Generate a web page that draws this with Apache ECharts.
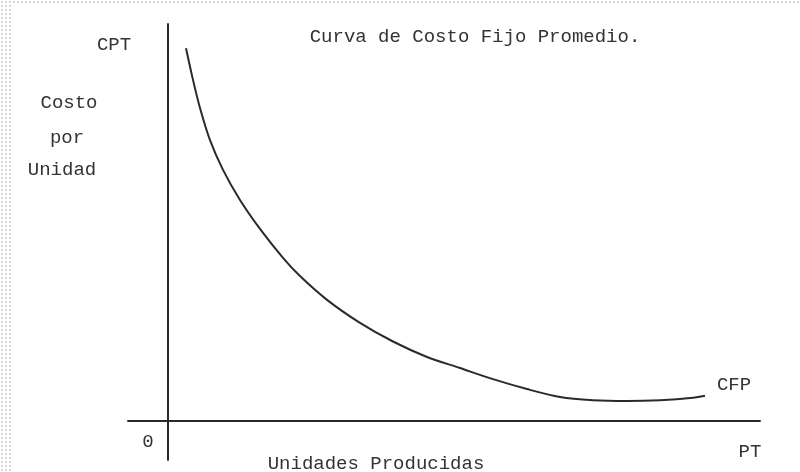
<!DOCTYPE html>
<html>
<head>
<meta charset="utf-8">
<script src="https://cdn.jsdelivr.net/npm/echarts@6/dist/echarts.min.js"></script>
<style>
  html, body { margin: 0; padding: 0; background: #fff; }
  #wrap { position: relative; width: 800px; height: 472px; overflow: hidden; background: #fff; }
  .strip { position: absolute; background-image: radial-gradient(circle, #d8d8d8 0.9px, transparent 1.4px); background-size: 4px 4px; }
  #left { left: 0; top: 0; width: 12px; height: 472px; }
  #top { left: 0; top: 0; width: 800px; height: 5px; }
  #chart { position: absolute; left: 0; top: 0; width: 800px; height: 472px; }
</style>
</head>
<body>
<div id="wrap">
  <div class="strip" id="left"></div>
  <div class="strip" id="top"></div>
  <div id="chart"></div>
</div>
<script>
// Units produced (x) and average fixed cost (y)
const unidades = [4.5, 6.25, 8, 10.5, 13.75, 18, 23, 28.75, 33, 39.75, 48, 56.25, 64.75, 73, 81.25, 89.75, 98, 106.25, 114.75, 123, 131.25, 134.25];
const costoFijoPromedio = [93.9, 85.9, 78.8, 70.7, 63.2, 55.6, 48.3, 41.0, 36.4, 30.4, 24.6, 19.9, 16.0, 13.2, 10.4, 7.9, 5.9, 5.1, 4.9, 5.1, 5.7, 6.2];

const titulo = 'Curva de Costo Fijo Promedio.';
const etiquetaEjeY = ['Costo', 'por', 'Unidad'];
const etiquetaCPT = 'CPT';
const etiquetaCFP = 'CFP';
const etiquetaPT = 'PT';
const etiquetaOrigen = '0';
const etiquetaEjeX = 'Unidades Producidas';

const FONT = '"Liberation Mono", "DejaVu Sans Mono", monospace';
const TXT = '#333333';

const chart = echarts.init(document.getElementById('chart'), null, { renderer: 'canvas' });

const pts = unidades.map((x, i) => [x, costoFijoPromedio[i]]);

function txt(x, y, s, align) {
  return {
    type: 'text', x: x, y: y,
    style: { text: s, font: '19px ' + FONT, fill: TXT, align: align || 'center', verticalAlign: 'middle' }
  };
}

chart.setOption({
  backgroundColor: 'transparent',
  animation: false,
  title: {
    text: titulo,
    left: 470, top: 22,
    textAlign: 'center',
    textStyle: { fontFamily: FONT, fontSize: 19, fontWeight: 'normal', color: TXT }
  },
  grid: { left: 128, right: 40, top: 24, bottom: 12 },
  xAxis: {
    type: 'value', min: -10, max: 148,
    axisLine: { show: true, onZero: true, lineStyle: { color: '#2a2a2a', width: 2 } },
    axisTick: { show: false }, axisLabel: { show: false }, splitLine: { show: false }
  },
  yAxis: {
    type: 'value', min: -10, max: 100,
    axisLine: { show: true, onZero: true, lineStyle: { color: '#2a2a2a', width: 2 } },
    axisTick: { show: false }, axisLabel: { show: false }, splitLine: { show: false }
  },
  series: [{
    type: 'line',
    data: pts,
    smooth: 0.3,
    symbol: 'none',
    lineStyle: { color: '#2a2a2a', width: 2 }
  }],
  graphic: [
    txt(114, 45, etiquetaCPT),
    txt(69, 103, etiquetaEjeY[0]),
    txt(67, 138, etiquetaEjeY[1]),
    txt(62, 170, etiquetaEjeY[2]),
    txt(734, 385, etiquetaCFP),
    txt(750, 452, etiquetaPT),
    txt(148, 442, etiquetaOrigen),
    txt(376, 464, etiquetaEjeX)
  ]
});
</script>
</body>
</html>
